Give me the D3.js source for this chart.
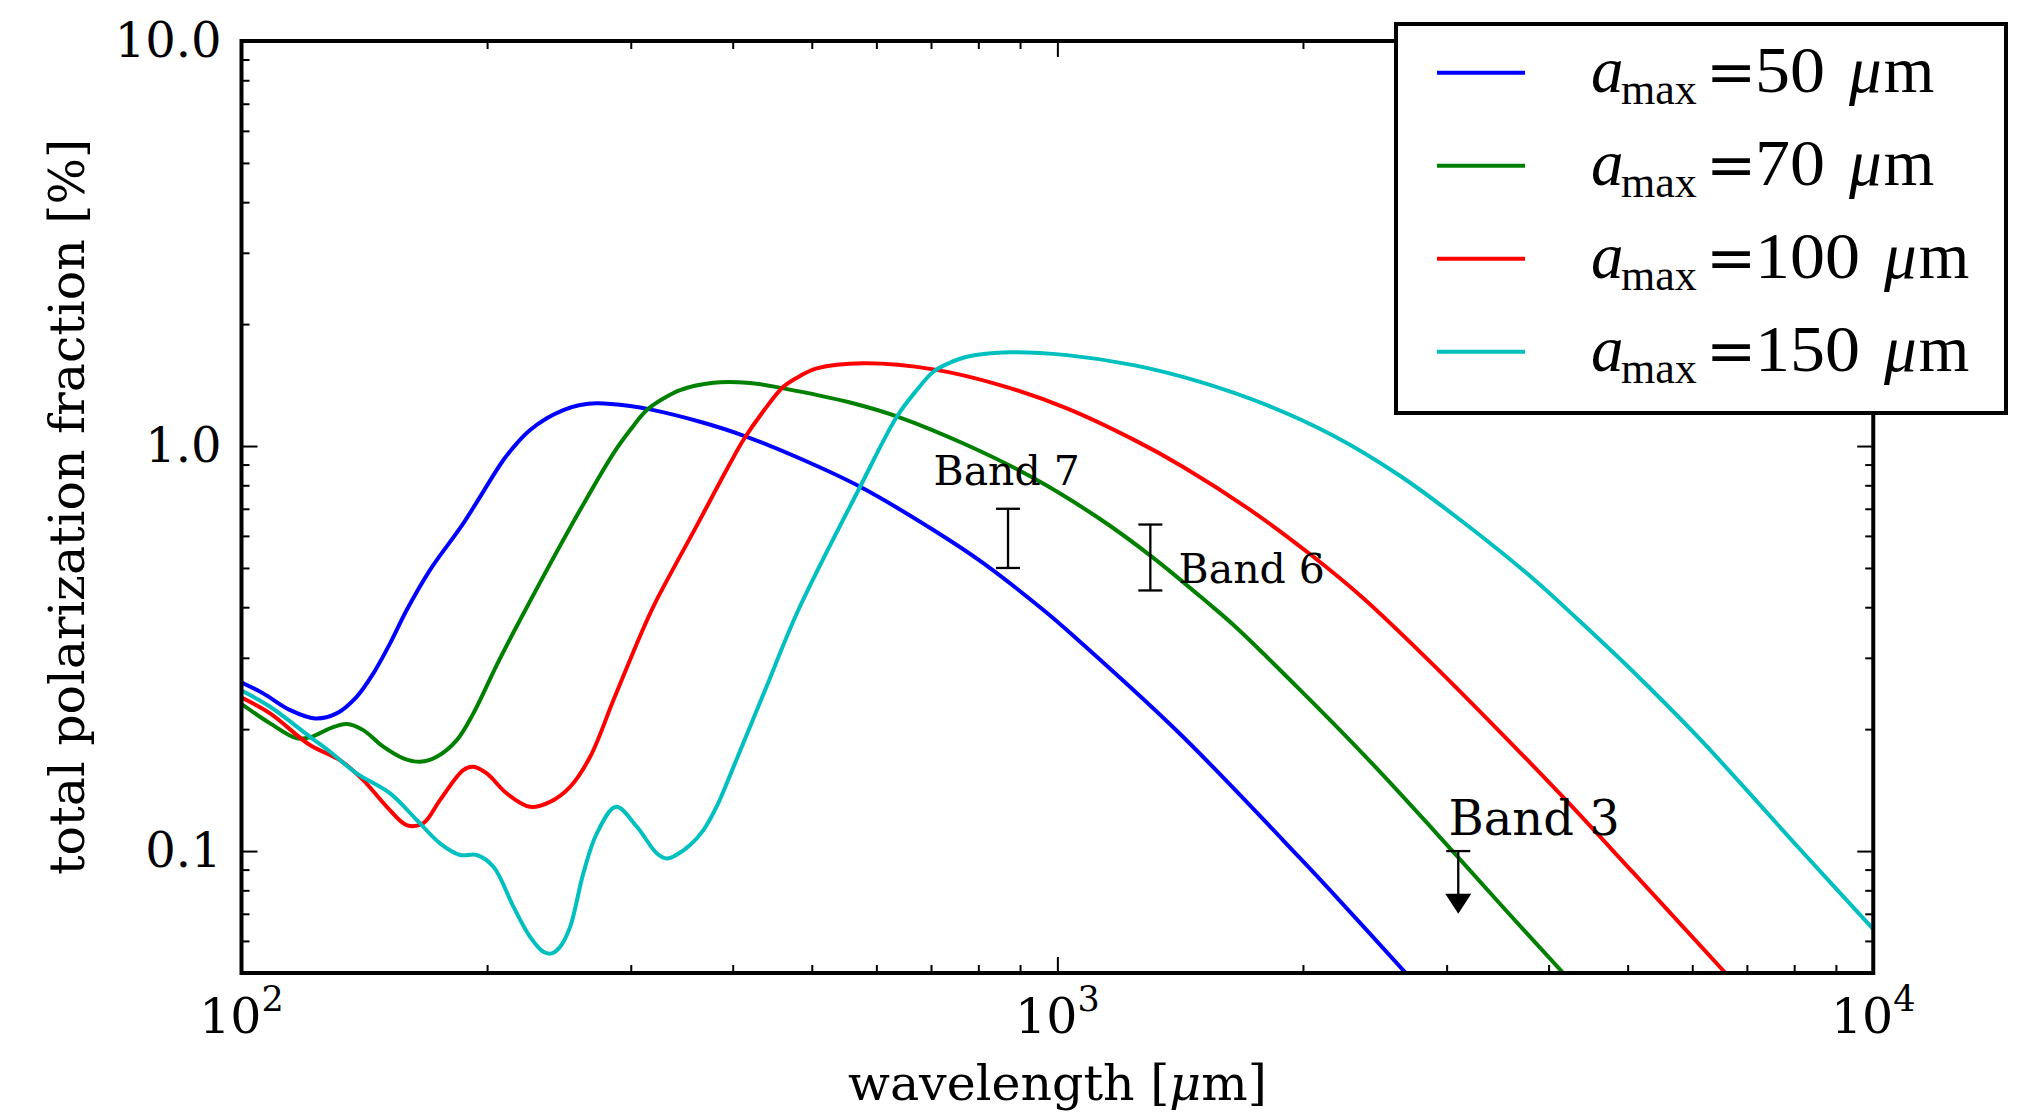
<!DOCTYPE html>
<html>
<head>
<meta charset="utf-8">
<script src="https://cdn.jsdelivr.net/npm/d3@7"></script>
<style>
  html, body { margin: 0; padding: 0; background: #fff; }
  svg { display: block; }
</style>
</head>
<body>
<svg id="chart" width="2025" height="1115"></svg>
<script>
// wavelength [um] , total polarization fraction [%]
var amax50 = [[100,0.2606],[106.3,0.2451],[114.7,0.2229],[123.1,0.2126],[130.8,0.2188],[138.4,0.2404],
  [145.1,0.2747],[152.1,0.3257],[159.4,0.3937],[170.2,0.4941],[187.0,0.6442],[209.4,0.9235],[217.5,1.0155],
  [225.8,1.0952],[236.7,1.1706],[248.0,1.2270],[260.0,1.2624],[272.6,1.2746],[299.5,1.2552],[316.8,1.2320],
  [364.8,1.1482],[412.2,1.0615],[483.7,0.9314],[573.1,0.7933],[704.7,0.6204],[812,0.5133],[961.4,0.3937],
  [1027,0.3513],[1414,0.1945],[1985,0.0959],[2285,0.0707],[2673,0.05]];

var amax70 = [[100,0.2307],[108.4,0.2067],[116.9,0.1898],[121.9,0.1915],[128.4,0.2009],[134.6,0.2059],
  [141.0,0.1989],[149.2,0.1810],[157.9,0.1694],[165.5,0.1661],[173.5,0.1709],[183.6,0.1879],[192.4,0.2188],
  [205.5,0.2879],[217.5,0.3594],[236.7,0.4941],[260.0,0.6950],[285.7,0.9594],[299.5,1.0952],[313.9,1.2270],
  [328.9,1.3100],[344.8,1.3748],[378.8,1.4330],[420.1,1.4307],[461.5,1.3881],[557.1,1.2806],[641.5,1.1759],
  [774.5,1.0057],[934.6,0.8336],[1128,0.6604],[1312,0.5289],[1525,0.4119],[1644,0.3614],[1985,0.2497],
  [2396,0.1697],[2891,0.1127],[3489,0.0740],[4169,0.05]];

var amax100 = [[100,0.2393],[108.4,0.2188],[121.3,0.1827],[132.0,0.1677],[141.0,0.1497],[150.7,0.1286],
  [159.4,0.1159],[167.0,0.1171],[175.1,0.1336],[187.0,0.1585],[192.4,0.1615],[199.8,0.1555],[211.4,0.1388],
  [225.8,0.1286],[238.9,0.1323],[252.8,0.1441],[267.5,0.1709],[285.7,0.2359],[308.0,0.3396],[320.4,0.4050],
  [362.8,0.6453],[397.1,0.9064],[412.2,1.0347],[436.3,1.2200],[461.5,1.4009],[483.7,1.4892],[507.1,1.5552],
  [578.5,1.6000],[704.7,1.5464],[850.6,1.4144],[1027,1.2389],[1240,1.0371],[1428,0.8868],[1723,0.6958],
  [2041,0.5404],[2373,0.4204],[2891,0.2879],[3489,0.1967],[4213,0.1328],[5083,0.0883],[6590,0.05]];

var amax150 = [[100,0.2490],[108.4,0.2271],[121.3,0.1915],[128.4,0.1759],[138.4,0.1555],[152.1,0.1388],
  [164.0,0.1193],[175.1,0.1045],[185.3,0.0978],[194.2,0.0978],[203.6,0.0915],[215.4,0.0729],[225.8,0.0614],
  [234.4,0.0564],[240.0,0.0559],[245.7,0.0580],[252.8,0.0650],[262.4,0.0881],[272.6,0.1106],[287.8,0.1286],
  [305.2,0.1148],[322.8,0.0988],[332.1,0.0959],[341.6,0.0980],[354.7,0.1035],[368.3,0.1127],[382.5,0.1291],
  [397.1,0.1540],[438.3,0.2497],[481.4,0.3937],[573.1,0.7933],[635.6,1.1813],[672.5,1.3748],[704.7,1.5256],
  [738.7,1.6057],[774.5,1.6614],[875.0,1.7035],[1027,1.6766],[1240,1.5840],[1496,1.4405],[1807,1.2617],
  [2180,1.0603],[2632,0.8434],[3176,0.6382],[3833,0.4695],[4333,0.3750],[5083,0.2767],[6137,0.1886],
  [8138,0.1009],[10000,0.0642]];

var seriesLabels = ["50", "70", "100", "150"];

// ALMA bands: wavelength, lower / upper end of the bar
var bandNames = ["Band 7", "Band 6", "Band 3"];
var bandWave = [870, 1300, 3100];
var bandLow = [0.5, 0.44, 0.07];
var bandHigh = [0.7, 0.64, 0.1];
var bandUpperLimit = [false, false, true];
var bandLabelAt = [[705, 0.80], [1408, 0.458], [3015, 0.1095]];

var xTicks = [100, 1000, 10000];
var xTickExp = ["2", "3", "4"];
var yTicks = [0.1, 1, 10];
var yTickLabels = ["0.1", "1.0", "10.0"];

var series = [amax50, amax70, amax100, amax150];
var colors = ["#0000ff", "#008000", "#ff0000", "#00bfbf"];
var bandFont = [41, 41, 48];

var svg = d3.select("#chart");
var plot = {left: 241.5, right: 1873.25, top: 41, bottom: 973};
var serif = "DejaVu Serif";

var x = d3.scaleLog().domain([100, 10000]).range([plot.left, plot.right]);
var y = d3.scaleLog().domain([0.05, 10]).range([plot.bottom, plot.top]);

svg.append("defs").append("clipPath").attr("id", "clip")
    .append("rect")
    .attr("x", plot.left).attr("y", plot.top)
    .attr("width", plot.right - plot.left).attr("height", plot.bottom - plot.top);

var line = d3.line()
    .x(d => x(d[0]))
    .y(d => y(d[1]))
    .curve(d3.curveCatmullRom.alpha(0.5));

var gLines = svg.append("g").attr("clip-path", "url(#clip)");
series.forEach(function (s, i) {
    gLines.append("path")
        .datum(s)
        .attr("d", line)
        .attr("fill", "none")
        .attr("stroke", colors[i])
        .attr("stroke-width", 4)
        .attr("stroke-linejoin", "round");
});

// error bars + labels
var gBands = svg.append("g").attr("stroke", "#000").attr("stroke-width", 2.3);
bandNames.forEach(function (name, i) {
    var bx = x(bandWave[i]);
    var yHi = y(bandHigh[i]), yLo = y(bandLow[i]);
    if (bandUpperLimit[i]) {
        gBands.append("line").attr("x1", bx - 12).attr("x2", bx + 12).attr("y1", yHi).attr("y2", yHi);
        gBands.append("line").attr("x1", bx).attr("x2", bx).attr("y1", yHi).attr("y2", yLo - 18);
        gBands.append("path")
            .attr("d", "M" + (bx - 13) + "," + (yLo - 20) + "L" + (bx + 13) + "," + (yLo - 20) + "L" + bx + "," + yLo + "Z")
            .attr("fill", "#000").attr("stroke", "none");
    } else {
        gBands.append("line").attr("x1", bx).attr("x2", bx).attr("y1", yHi).attr("y2", yLo);
        gBands.append("line").attr("x1", bx - 12).attr("x2", bx + 12).attr("y1", yHi).attr("y2", yHi);
        gBands.append("line").attr("x1", bx - 12).attr("x2", bx + 12).attr("y1", yLo).attr("y2", yLo);
    }
    svg.append("text")
        .attr("x", x(bandLabelAt[i][0]))
        .attr("y", y(bandLabelAt[i][1]))
        .attr("font-family", serif)
        .attr("font-size", bandFont[i])
        .attr("fill", "#000")
        .text(name);
});

// ticks on all four sides, pointing inwards
function ticksOn(gen, tx, ty, values, len) {
    var g = svg.append("g")
        .attr("transform", "translate(" + tx + "," + ty + ")")
        .call(gen.tickValues(values).tickSizeInner(-len).tickSizeOuter(0).tickFormat(""));
    g.select(".domain").remove();
    g.selectAll(".tick line").attr("stroke", "#000").attr("stroke-width", 2);
    return g;
}
var xMinor = x.ticks().filter(d => xTicks.indexOf(d) < 0);
var yMinor = y.ticks().filter(d => yTicks.indexOf(d) < 0 && d > 0.05);

ticksOn(d3.axisBottom(x), 0, plot.bottom, xMinor, 8);
ticksOn(d3.axisTop(x), 0, plot.top, xMinor, 8);
ticksOn(d3.axisLeft(y), plot.left, 0, yMinor, 8);
ticksOn(d3.axisRight(y), plot.right, 0, yMinor, 8);
ticksOn(d3.axisBottom(x), 0, plot.bottom, xTicks, 16);
ticksOn(d3.axisTop(x), 0, plot.top, xTicks, 16);
ticksOn(d3.axisRight(y), plot.right, 0, yTicks, 16);

var yAxis = svg.append("g")
    .attr("transform", "translate(" + plot.left + ",0)")
    .call(d3.axisLeft(y).tickValues(yTicks).tickSizeInner(-16).tickSizeOuter(0).tickPadding(20)
        .tickFormat(d => yTickLabels[yTicks.indexOf(d)]));
yAxis.select(".domain").remove();
yAxis.attr("font-family", serif).attr("font-size", 48);
yAxis.selectAll(".tick line").attr("stroke", "#000").attr("stroke-width", 2);
yAxis.selectAll(".tick text").attr("fill", "#000");

var xl = svg.append("g").selectAll("text").data(xTicks).join("text")
    .attr("x", d => x(d))
    .attr("y", plot.bottom + 60)
    .attr("text-anchor", "middle")
    .attr("font-family", serif)
    .attr("font-size", 49)
    .attr("fill", "#000");
xl.append("tspan").text("10");
xl.append("tspan").attr("dy", -22).attr("font-size", 35).text(d => xTickExp[xTicks.indexOf(d)]);

// frame
svg.append("rect")
    .attr("x", plot.left).attr("y", plot.top)
    .attr("width", plot.right - plot.left).attr("height", plot.bottom - plot.top)
    .attr("fill", "none").attr("stroke", "#000").attr("stroke-width", 4);

// axis titles
var xt = svg.append("text")
    .attr("x", (plot.left + plot.right) / 2).attr("y", 1100)
    .attr("text-anchor", "middle")
    .attr("font-family", serif).attr("font-size", 49).attr("fill", "#000");
xt.append("tspan").text("wavelength [");
xt.append("tspan").attr("font-style", "italic").text("\u03bc");
xt.append("tspan").text("m]");

svg.append("text")
    .attr("transform", "translate(84," + ((plot.top + plot.bottom) / 2) + ") rotate(-90)")
    .attr("text-anchor", "middle")
    .attr("font-family", serif).attr("font-size", 49).attr("fill", "#000")
    .text("total polarization fraction [%]");

// legend
var lg = svg.append("g");
lg.append("rect")
    .attr("x", 1396).attr("y", 24).attr("width", 610).attr("height", 389)
    .attr("fill", "#fff").attr("stroke", "#000").attr("stroke-width", 4);

var legFont = "Liberation Serif";
seriesLabels.forEach(function (lab, i) {
    var cy = 72.7 + i * 93, base = cy + 19.3;
    lg.append("line")
        .attr("x1", 1437).attr("x2", 1525).attr("y1", cy).attr("y2", cy)
        .attr("stroke", colors[i]).attr("stroke-width", 4);
    function put(txt, px, py, size, italic, fam) {
        var t = lg.append("text")
            .attr("x", px).attr("y", py)
            .attr("font-family", fam || legFont).attr("font-size", size)
            .attr("font-style", italic ? "italic" : "normal")
            .attr("fill", "#000").text(txt);
        return t;
    }
    put("a", 1591, base, 65, true);
    put("max", 1621, base + 11.7, 44, false);
    put("=", 1706, base, 60, false, serif);
    var numW = 35 * lab.length;
    put(lab, 1755, base, 65, false)
        .attr("textLength", numW).attr("lengthAdjust", "spacingAndGlyphs");
    var mx = 1755 + numW + 24;
    var wm = put("\u03bc", mx, base, 65, true).node().getComputedTextLength();
    put("m", mx + wm + 2, base, 65, false);
});
</script>
</body>
</html>
